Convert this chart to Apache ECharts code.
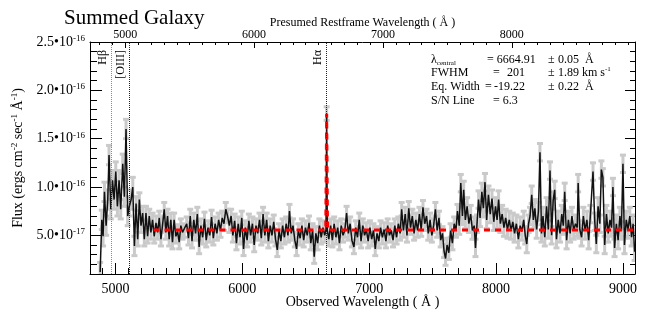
<!DOCTYPE html>
<html>
<head>
    <meta charset="utf-8">
    <title>Summed Galaxy</title>
    <script src="https://cdn.jsdelivr.net/npm/echarts@6/dist/echarts.min.js"></script>
    <style>
        html, body { margin: 0; padding: 0; background: #ffffff; }
        #chart { width: 646px; height: 314px; }
    </style>
</head>
<body>
<div id="chart"></div>
<script>
    // observed wavelength (A) and flux (1e-16 ergs/cm2/s/A)
    var wave = [
        4880, 4893, 4903, 4914, 4927, 4940, 4950, 4964, 4977, 4990, 5003, 5016, 5029, 5042, 5058, 5071, 5084, 5097, 5110, 5124,
        5137, 5150, 5163, 5176, 5189, 5202, 5215, 5228, 5241, 5254, 5267, 5280, 5293, 5306, 5320, 5333, 5346, 5359, 5372, 5385,
        5398, 5411, 5424, 5437, 5450, 5463, 5477, 5490, 5503, 5516, 5529, 5542,
        5562, 5576, 5590, 5604, 5618, 5632, 5646, 5660, 5674, 5688, 5702, 5716, 5730, 5744, 5758, 5772, 5786, 5800, 5814, 5828,
        5842, 5856, 5870, 5884, 5898, 5912, 5926, 5940, 5954, 5968, 5982, 5996, 6010, 6024, 6038, 6052, 6066, 6080, 6094, 6108,
        6122, 6136, 6150, 6164, 6178, 6192, 6206, 6220, 6234, 6248, 6262, 6276,
        6290, 6304, 6318, 6332, 6346, 6360, 6372, 6386, 6400, 6414, 6428, 6442, 6456, 6470, 6484, 6498, 6512, 6526, 6540, 6554,
        6567, 6580, 6594, 6608, 6622, 6636, 6650, 6660, 6665, 6670, 6682, 6696, 6710, 6724, 6738, 6752, 6766, 6780, 6794, 6808,
        6822, 6836, 6850, 6864, 6880, 6894, 6908, 6922, 6936, 6950, 6964, 6978, 6992,
        7006, 7020, 7034, 7048, 7062, 7076, 7090, 7104, 7118, 7132, 7146, 7160, 7174, 7188, 7202, 7216, 7230, 7244, 7256, 7270,
        7284, 7298, 7312, 7326, 7340, 7354, 7368, 7382, 7396, 7410, 7424, 7438, 7452, 7466, 7480, 7494, 7508, 7522, 7536, 7550,
        7564, 7578, 7590, 7602, 7614, 7628, 7642, 7656, 7670, 7684, 7696, 7710, 7722,
        7735, 7745, 7758, 7772, 7786, 7800, 7814, 7828, 7838, 7850, 7862, 7874, 7888, 7900, 7913, 7926, 7940, 7954, 7968, 7982,
        7996, 8008, 8020, 8034, 8048, 8062, 8076, 8090, 8104, 8118, 8132, 8146, 8160, 8176, 8190, 8204, 8218, 8230, 8242, 8256,
        8268, 8281, 8294, 8306, 8320, 8334, 8346, 8358, 8370, 8384, 8398, 8412, 8425, 8438, 8450,
        8462, 8476, 8490, 8504, 8518, 8530, 8541, 8556, 8570, 8584, 8598, 8612, 8626, 8640, 8647, 8660, 8674, 8688, 8702, 8716,
        8730, 8744, 8764, 8778, 8790, 8804, 8818, 8830, 8842, 8856, 8870, 8884, 8898, 8910, 8921, 8934, 8948, 8962, 8976, 8988,
        9000, 9012, 9026, 9040, 9054, 9068, 9080, 9092
    ];
    var flux = [
        0.12, 0.66, 0.49, 0.95, 0.60, 0.87, 1.33, 0.77, 1.07, 0.87, 1.16, 0.80, 1.07, 0.77, 1.24, 0.90, 1.60, 0.70, 0.80, 0.87,
        1.00, 0.39, 0.83, 0.46, 0.87, 0.60, 0.73, 0.46, 0.73, 0.49, 0.70, 0.53, 0.66, 0.49, 0.63, 0.53, 0.68, 0.46, 0.61, 0.77,
        0.53, 0.70, 0.46, 0.66, 0.43, 0.66, 0.49, 0.54, 0.43, 0.60, 0.53, 0.55,
        0.62, 0.47, 0.70, 0.44, 0.66, 0.52, 0.72, 0.38, 0.60, 0.48, 0.67, 0.45, 0.58, 0.50, 0.69, 0.47, 0.62, 0.52, 0.66, 0.55,
        0.68, 0.62, 0.77, 0.70, 0.60, 0.70, 0.50, 0.65, 0.42, 0.62, 0.48, 0.68, 0.36, 0.58, 0.45, 0.65, 0.50, 0.62, 0.40, 0.60,
        0.52, 0.66, 0.47, 0.72, 0.50, 0.66, 0.44, 0.60, 0.50, 0.64, 0.46, 0.35,
        0.55, 0.44, 0.60, 0.48, 0.62, 0.50, 0.75, 0.52, 0.60, 0.45, 0.36, 0.55, 0.47, 0.60, 0.45, 0.58, 0.50, 0.63, 0.42, 0.55,
        0.28, 0.52, 0.42, 0.60, 0.48, 0.58, 0.50, 0.56, 1.76, 0.55, 0.46, 0.60, 0.45, 0.62, 0.48, 0.58, 0.42, 0.60, 0.50, 0.55,
        0.73, 0.52, 0.62, 0.45, 0.38, 0.58, 0.48, 0.66, 0.44, 0.60, 0.50, 0.56, 0.44,
        0.58, 0.46, 0.55, 0.36, 0.52, 0.44, 0.58, 0.48, 0.56, 0.44, 0.60, 0.50, 0.55, 0.45, 0.60, 0.48, 0.62, 0.52, 0.77, 0.55,
        0.72, 0.50, 0.78, 0.58, 0.70, 0.52, 0.66, 0.55, 0.72, 0.56, 0.79, 0.62, 0.70, 0.52, 0.66, 0.50, 0.60, 0.77, 0.55, 0.68,
        0.45, 0.52, 0.34, 0.26, 0.40, 0.32, 0.55, 0.42, 0.62, 0.55, 0.75, 0.60, 1.04,
        0.70, 0.97, 0.66, 0.80, 0.62, 0.72, 0.55, 0.60, 0.37, 0.62, 0.87, 0.68, 0.95, 0.78, 1.05, 0.66, 0.92, 0.72, 0.88, 0.64,
        0.80, 0.66, 0.87, 0.62, 0.72, 0.58, 0.68, 0.56, 0.66, 0.55, 0.64, 0.52, 0.62, 0.46, 0.60, 0.54, 0.66, 0.50, 0.41, 0.62,
        0.70, 0.92, 0.66, 0.78, 0.56, 0.75, 1.36, 0.52, 0.70, 0.48, 0.80, 0.56, 1.17, 0.50, 0.86,
        0.97, 0.46, 0.66, 0.52, 0.72, 0.60, 0.95, 0.45, 0.66, 0.52, 0.70, 0.55, 0.62, 0.58, 1.04, 0.56, 0.48, 0.70, 0.55, 0.66,
        0.45, 0.72, 1.16, 0.64, 0.41, 0.80, 0.62, 1.18, 1.10, 0.40, 0.72, 0.52, 0.66, 0.58, 1.00, 0.37, 0.62, 0.45, 0.70, 0.55,
        1.24, 0.40, 0.66, 0.56, 0.70, 0.48, 0.62, 0.33
    ];
    // 1-sigma error by wavelength range (upper limit of range, error)
    var errLimit = [5160, 7700, 9200];
    var errValue = [0.10, 0.07, 0.09];

    // Gaussian fit to H-alpha on the continuum
    var fitWave = [5300, 6658, 6665, 6672, 9095];
    var fitFlux = [0.554, 0.554, 1.755, 0.554, 0.554];

    // marked lines (observed positions)
    var lineNames = ['H\u03b2', '[OIII]', 'H\u03b1'];
    var lineWave = [4968, 5110, 6660];
    var lineColors = ['#8a8a8a', '#222222', '#222222'];

    var xMajor = [5000, 6000, 7000, 8000, 9000];
    var restMajor = [5000, 6000, 7000, 8000];
    var yMajor = [0.5, 1.0, 1.5, 2.0, 2.5];
    var restScale = 6664.91 / 6562.8;

    var xMin = 4800, xMax = 9095;
    var xMinor = [];
    for (var t = 4800; t <= 9000; t += 100) xMinor.push(t);
    var restMinor = [];
    for (var r = 4800; r <= 8900; r += 100) restMinor.push(r);
    var yMinor = [];
    for (var k = 1; k <= 25; k++) yMinor.push(k / 10);

    function errAt(w) {
        for (var i = 0; i < errLimit.length; i++) {
            if (w <= errLimit[i]) return errValue[i];
        }
        return errValue[errValue.length - 1];
    }

    var specData = wave.map(function (w, i) { return [w, flux[i]]; });
    var errData = wave.map(function (w, i) { return [w, flux[i], errAt(w)]; });
    var fitData = fitWave.map(function (w, i) { return [w, fitFlux[i]]; });

    var serif = 'Liberation Serif';
    var black = '#000000';

    var chart = echarts.init(document.getElementById('chart'), null, {renderer: 'canvas'});

    function plainNum(v) { return String(Math.round(v)); }

    function baseX(extra) {
        var o = {
            type: 'value',
            min: xMin,
            max: xMax,
            splitLine: {show: false},
            axisLine: {show: false, lineStyle: {color: black, width: 1}},
            axisLabel: {show: false},
            axisTick: {show: false}
        };
        for (var key in extra) o[key] = extra[key];
        return o;
    }

    function txt(x, y, s) {
        return {type: 'text', x: x, y: y, style: {text: s, fontFamily: serif, fontSize: 12, fill: black, verticalAlign: 'middle'}};
    }

    var supRich = {
        n: {fontFamily: serif, fontSize: 14, color: black, lineHeight: 16},
        s: {fontFamily: serif, fontSize: 9, color: black, verticalAlign: 'top', lineHeight: 16}
    };

    var option = {
        animation: false,
        backgroundColor: '#ffffff',
        title: {
            text: 'Summed Galaxy',
            left: 59,
            top: 3,
            textStyle: {fontFamily: serif, fontSize: 21, fontWeight: 'normal', color: black}
        },
        grid: {left: 90, top: 42, right: 11, bottom: 39},
        xAxis: [
            baseX({
                position: 'bottom',
                axisLine: {show: true, onZero: false, lineStyle: {color: black, width: 1}},
                axisTick: {show: true, inside: true, length: 11, customValues: xMajor, lineStyle: {color: black}},
                axisLabel: {show: true, customValues: xMajor, formatter: plainNum, margin: 8, fontFamily: serif, fontSize: 14, color: black},
                name: 'Observed Wavelength ( \u00c5 )',
                nameLocation: 'middle',
                nameGap: 21,
                nameMoveOverlap: false,
                nameTextStyle: {fontFamily: serif, fontSize: 14, color: black}
            }),
            baseX({
                position: 'bottom',
                axisTick: {show: true, inside: true, length: 6, customValues: xMinor, lineStyle: {color: black}}
            }),
            {
                type: 'value',
                position: 'top',
                min: xMin / restScale,
                max: xMax / restScale,
                splitLine: {show: false},
                axisLine: {show: true, onZero: false, lineStyle: {color: black, width: 1}},
                axisTick: {show: true, inside: true, length: 6, customValues: restMajor, lineStyle: {color: black}},
                axisLabel: {show: true, customValues: restMajor, formatter: plainNum, margin: 1, fontFamily: serif, fontSize: 12, color: black},
                name: 'Presumed Restframe Wavelength ( \u00c5 )',
                nameLocation: 'middle',
                nameGap: 13,
                nameMoveOverlap: false,
                nameTextStyle: {fontFamily: serif, fontSize: 12, color: black}
            },
            {
                type: 'value',
                position: 'top',
                min: xMin / restScale,
                max: xMax / restScale,
                splitLine: {show: false},
                axisLine: {show: false},
                axisLabel: {show: false},
                axisTick: {show: true, inside: true, length: 3, customValues: restMinor, lineStyle: {color: black}}
            }
        ],
        yAxis: [
            {
                type: 'value',
                position: 'left',
                min: 0.1,
                max: 2.5,
                splitLine: {show: false},
                axisLine: {show: true, onZero: false, lineStyle: {color: black, width: 1}},
                axisTick: {show: true, inside: true, length: 12, customValues: yMajor, lineStyle: {color: black}},
                axisLabel: {
                    show: true,
                    customValues: yMajor,
                    margin: 5,
                    color: black,
                    formatter: function (v) {
                        if (v >= 1) return '{n|' + v.toFixed(1) + '\u202210}{s|-16}';
                        return '{n|' + (v * 10).toFixed(1) + '\u202210}{s|-17}';
                    },
                    rich: supRich
                },
                name: '{n|Flux (ergs cm}{s|-2}{n| sec}{s|-1}{n| \u00c5}{s|-1}{n|)}',
                nameLocation: 'middle',
                nameRotate: 90,
                nameGap: 64,
                nameMoveOverlap: false,
                nameTextStyle: {rich: supRich}
            },
            {
                type: 'value', position: 'left', min: 0.1, max: 2.5,
                splitLine: {show: false}, axisLine: {show: false}, axisLabel: {show: false},
                axisTick: {show: true, inside: true, length: 7, customValues: yMinor, lineStyle: {color: black}}
            },
            {
                type: 'value', position: 'right', min: 0.1, max: 2.5,
                splitLine: {show: false}, axisLabel: {show: false},
                axisLine: {show: true, onZero: false, lineStyle: {color: black, width: 1}},
                axisTick: {show: true, inside: true, length: 10, customValues: yMajor, lineStyle: {color: black}}
            },
            {
                type: 'value', position: 'right', min: 0.1, max: 2.5,
                splitLine: {show: false}, axisLine: {show: false}, axisLabel: {show: false},
                axisTick: {show: true, inside: true, length: 5, customValues: yMinor, lineStyle: {color: black}}
            }
        ],
        graphic: [
            {type: 'text', x: 431, y: 60, style: {text: '{l|\u03bb}{s|central}', verticalAlign: 'middle', rich: {
                l: {fontFamily: serif, fontSize: 12, fill: black, lineHeight: 14},
                s: {fontFamily: serif, fontSize: 7, fill: black, verticalAlign: 'bottom', lineHeight: 14}}}},
            txt(487, 60, '= 6664.91'),
            txt(548, 60, '\u00b1'),
            txt(558, 60, '0.05'),
            txt(585, 60, '\u00c5'),

            txt(431, 73, 'FWHM'),
            txt(493, 73, '='),
            txt(507, 73, '201'),
            txt(548, 73, '\u00b1'),
            txt(558, 73, '1.89'),
            {type: 'text', x: 582, y: 73, style: {text: '{n|km s}{s|-1}', verticalAlign: 'middle', rich: {
                n: {fontFamily: serif, fontSize: 12, fill: black, lineHeight: 14},
                s: {fontFamily: serif, fontSize: 7, fill: black, verticalAlign: 'top', lineHeight: 14}}}},

            txt(431, 87, 'Eq. Width'),
            txt(485, 87, '='),
            txt(494, 87, '-19.22'),
            txt(548, 87, '\u00b1'),
            txt(558, 87, '0.22'),
            txt(585, 87, '\u00c5'),

            txt(431, 101, 'S/N Line'),
            txt(493, 101, '= 6.3')
        ],
        series: [
            {
                // error bars
                type: 'custom',
                xAxisIndex: 0,
                yAxisIndex: 0,
                clip: true,
                z: 1,
                data: errData,
                renderItem: function (params, api) {
                    var w = api.value(0), f = api.value(1), e = api.value(2);
                    var lo = api.coord([w, f - e]);
                    var hi = api.coord([w, f + e]);
                    var cap = 3;
                    var st = {stroke: '#cacaca', lineWidth: 3};
                    return {
                        type: 'group',
                        children: [
                            {type: 'line', shape: {x1: lo[0], y1: lo[1], x2: hi[0], y2: hi[1]}, style: st},
                            {type: 'line', shape: {x1: lo[0] - cap, y1: lo[1], x2: lo[0] + cap, y2: lo[1]}, style: st},
                            {type: 'line', shape: {x1: hi[0] - cap, y1: hi[1], x2: hi[0] + cap, y2: hi[1]}, style: st}
                        ]
                    };
                }
            },
            {
                type: 'line',
                xAxisIndex: 0,
                yAxisIndex: 0,
                data: specData,
                showSymbol: false,
                clip: true,
                z: 3,
                lineStyle: {color: '#111111', width: 1.5},
                markLine: {
                    silent: true,
                    symbol: 'none',
                    animation: false,
                    lineStyle: {type: 'dotted', color: '#222222', width: 1},
                    label: {
                        show: true,
                        position: 'insideEndTop',
                        distance: [8, 2],
                        formatter: '{b}',
                        fontFamily: serif,
                        fontSize: 12,
                        color: black
                    },
                    data: lineWave.map(function (w, i) {
                        return {name: lineNames[i], xAxis: w, lineStyle: {color: lineColors[i]}};
                    })
                }
            },
            {
                type: 'line',
                xAxisIndex: 0,
                yAxisIndex: 0,
                data: fitData,
                showSymbol: false,
                clip: true,
                z: 4,
                lineStyle: {color: '#ff0000', width: 3, type: [6, 5]}
            }
        ]
    };

    chart.setOption(option);
</script>
</body>
</html>
